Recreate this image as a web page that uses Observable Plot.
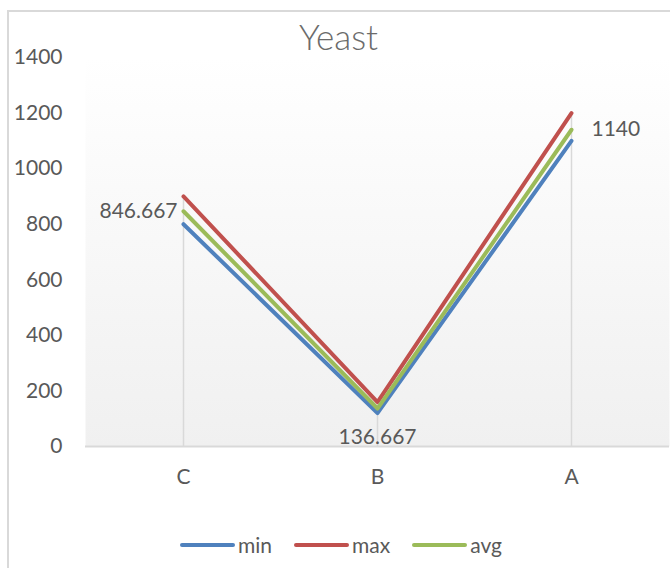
<!DOCTYPE html>
<html>
<head>
<meta charset="utf-8">
<script src="https://cdn.jsdelivr.net/npm/d3@7"></script>
<script src="https://cdn.jsdelivr.net/npm/@observablehq/plot@0.6"></script>
<style>
  html, body { margin: 0; padding: 0; background: #fff; overflow: hidden; }
  #wrap { position: relative; width: 670px; height: 568px; font-family: Lato, "Open Sans", sans-serif; color: #595959; }
  #border { position: absolute; left: 7px; top: 10px; width: 720px; height: 620px; border: 2px solid #d9d9d9; box-sizing: border-box; }
  #chart { position: absolute; left: 0; top: 0; }
  #title { position: absolute; left: 0; width: 677px; top: 15px; text-align: center; font-size: 35px; color: #6b6b6b; font-weight: 300; }
  #legend { position: absolute; top: 532px; left: 180px; display: flex; align-items: center; font-size: 21px; color: #595959; }
  #legend .item { display: flex; align-items: center; margin-right: 22px; }
  #legend .sw { width: 55px; height: 4px; border-radius: 2px; margin-right: 3px; }
</style>
</head>
<body>
<div id="wrap">
  <div id="border"></div>
  <div id="chart"></div>
  <div id="title"></div>
  <div id="legend"></div>
</div>
<script>
const titleText = "Yeast";
const categories = ["C", "B", "A"];
const seriesNames = ["min", "max", "avg"];
const seriesColors = ["#4F81BD", "#C0504D", "#9BBB59"];
const minValues = [800, 120, 1100];
const maxValues = [900, 160, 1200];
const avgValues = [846.667, 136.667, 1140];
const yTicks = [0, 200, 400, 600, 800, 1000, 1200, 1400];

const seriesValues = { min: minValues, max: maxValues, avg: avgValues };
const data = [];
for (const s of seriesNames) {
  categories.forEach((c, i) => data.push({ series: s, cat: c, value: seriesValues[s][i] }));
}
const avgData = categories.map((c, i) => ({ cat: c, value: avgValues[i] }));
const dropData = categories.map((c, i) => ({ cat: c, top: Math.max(minValues[i], maxValues[i], avgValues[i]) }));
const fmt = v => String(+v.toFixed(3));

const font = "Lato, 'Open Sans', sans-serif";

const chart = Plot.plot({
  width: 670,
  height: 568,
  marginLeft: 85,
  marginRight: 1,
  marginTop: 57,
  marginBottom: 122,
  style: { fontFamily: font, fontSize: "21px", color: "#595959", background: "transparent" },
  x: { type: "point", domain: categories, padding: 0.5, label: null },
  y: { domain: [0, 1400], label: null },
  color: { domain: seriesNames, range: seriesColors },
  marks: [
    Plot.frame({ fill: "url(#plotGrad)", stroke: "none" }),
    Plot.ruleX(dropData, { x: "cat", y1: 0, y2: "top", stroke: "#d9d9d9", strokeWidth: 1.5 }),
    Plot.ruleY([0], { stroke: "#d9d9d9", strokeWidth: 2 }),
    Plot.axisY({ ticks: yTicks, tickFormat: d => String(d), tickSize: 0, tickPadding: 23, fill: "#595959", fontSize: 21, label: null }),
    Plot.axisX({ tickSize: 0, tickPadding: 23, fill: "#595959", fontSize: 21, label: null }),
    Plot.line(data, { x: "cat", y: "value", z: "series", stroke: "series", strokeWidth: 4, strokeLinecap: "round", strokeLinejoin: "round" }),
    Plot.text(avgData.filter(d => d.cat === "C"), { x: "cat", y: "value", text: d => fmt(d.value), textAnchor: "end", dx: -6, fill: "#595959", fontSize: 21 }),
    Plot.text(avgData.filter(d => d.cat === "B"), { x: "cat", y: "value", text: d => fmt(d.value), textAnchor: "middle", dy: 29, fill: "#595959", fontSize: 21 }),
    Plot.text(avgData.filter(d => d.cat === "A"), { x: "cat", y: "value", text: d => fmt(d.value), textAnchor: "start", dx: 20, fill: "#595959", fontSize: 21 })
  ]
});

const svg = d3.select(chart);
const defs = svg.insert("defs", ":first-child");
const g = defs.append("linearGradient").attr("id", "plotGrad").attr("x1", 0).attr("y1", 0).attr("x2", 0).attr("y2", 1);
g.append("stop").attr("offset", "0%").attr("stop-color", "#ffffff");
g.append("stop").attr("offset", "100%").attr("stop-color", "#f0f0f0");

document.getElementById("chart").appendChild(chart);
document.getElementById("title").textContent = titleText;

const legend = document.getElementById("legend");
seriesNames.forEach((s, i) => {
  const item = document.createElement("div");
  item.className = "item";
  const sw = document.createElement("div");
  sw.className = "sw";
  sw.style.background = seriesColors[i];
  const t = document.createElement("span");
  t.textContent = s;
  item.appendChild(sw);
  item.appendChild(t);
  legend.appendChild(item);
});
</script>
</body>
</html>
